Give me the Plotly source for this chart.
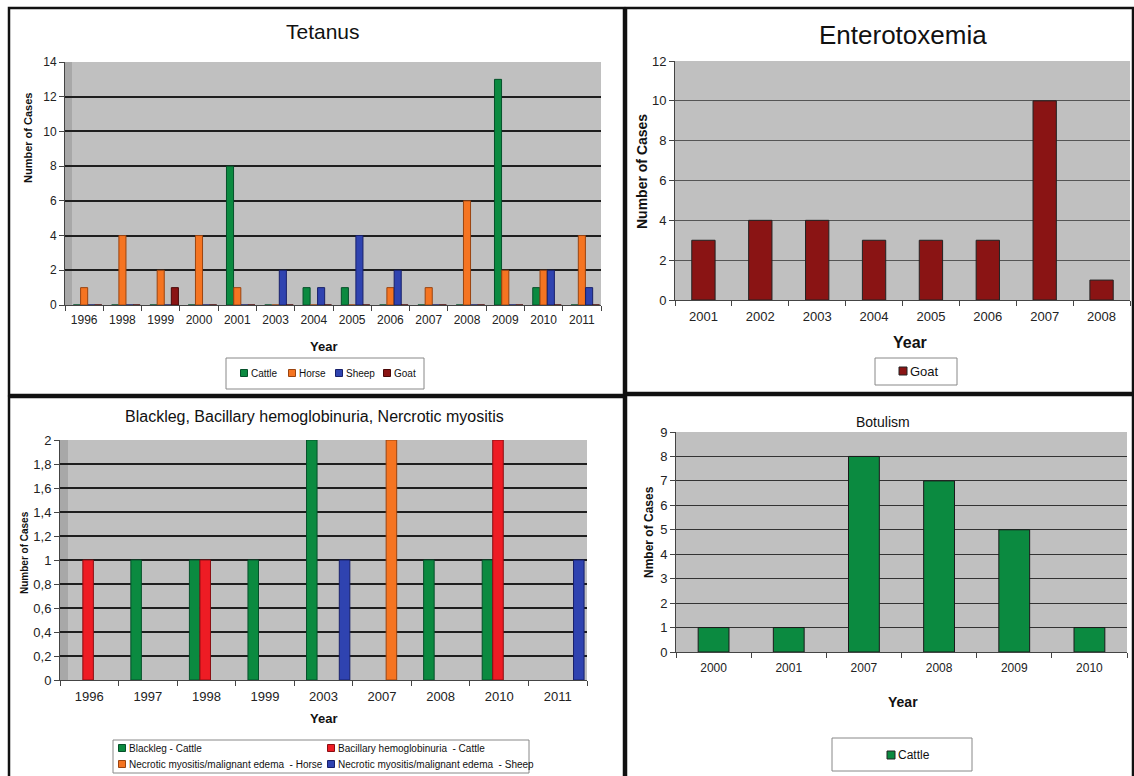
import plotly.graph_objects as go

W, H = 1134, 776

# ---------------- data ----------------
tet_years = ["1996", "1998", "1999", "2000", "2001", "2003", "2004", "2005",
             "2006", "2007", "2008", "2009", "2010", "2011"]
tet_cattle = [0, 0, 0, 0, 8, 0, 1, 1, 0, 0, 0, 13, 1, 0]
tet_horse = [1, 4, 2, 4, 1, 0, 0, 0, 1, 1, 6, 2, 2, 4]
tet_sheep = [0, 0, 0, 0, 0, 2, 1, 4, 2, 0, 0, 0, 2, 1]
tet_goat = [0, 0, 1, 0, 0, 0, 0, 0, 0, 0, 0, 0, 0, 0]

ent_years = ["2001", "2002", "2003", "2004", "2005", "2006", "2007", "2008"]
ent_goat = [3, 4, 4, 3, 3, 3, 10, 1]

bl_years = ["1996", "1997", "1998", "1999", "2003", "2007", "2008", "2010", "2011"]
bl_blackleg_cattle = [None, 1, 1, 1, 2, None, 1, 1, None]
bl_bacillary_cattle = [1, None, 1, None, None, None, None, 2, None]
bl_necrotic_horse = [None, None, None, None, None, 2, None, None, None]
bl_necrotic_sheep = [None, None, None, None, 1, None, None, None, 1]

bot_years = ["2000", "2001", "2007", "2008", "2009", "2010"]
bot_cattle = [1, 1, 8, 7, 5, 1]

# ---------------- styles ----------------
GREEN, GREEN_D = "#0b8a40", "#05502a"
ORANGE, ORANGE_D = "#f57421", "#9a4410"
BLUE, BLUE_D = "#2f43b0", "#18206a"
GOAT, GOAT_D = "#8a1414", "#4a0808"
RED, RED_D = "#ee1c24", "#8a0e12"
NARROW = "Liberation Sans Narrow, Arial Narrow, Liberation Sans, Arial"
ARIAL = "Liberation Sans, Arial"


def px(x):
    return x / W


def py(y):
    return 1 - y / H


fig = go.Figure()


def add_bar(x, y, name, color, line, xa, ya, width, offset=None, lw=1):
    kw = dict(x=x, y=y, name=name, xaxis=xa, yaxis=ya, showlegend=False,
              width=width, marker=dict(color=color, line=dict(color=line, width=lw)),
              hoverinfo="x+y+name")
    if offset is not None:
        kw["offset"] = offset
    fig.add_trace(go.Bar(**kw))


# Tetanus
tet_series = [(tet_cattle, "Cattle", GREEN, GREEN_D, -0.19),
              (tet_horse, "Horse", ORANGE, ORANGE_D, 0.0),
              (tet_sheep, "Sheep", BLUE, BLUE_D, 0.19),
              (tet_goat, "Goat", GOAT, GOAT_D, 0.37)]
tw = 0.185
for vals, nm, c, d, cen in tet_series:
    add_bar(tet_years, vals, nm, c, d, "x", "y", tw, cen - tw / 2)

# Enterotoxemia
add_bar(ent_years, ent_goat, "Goat", GOAT, "#222222", "x2", "y2", 0.41)

# Blackleg
bl_series = [(bl_blackleg_cattle, "Blackleg - Cattle", GREEN, GREEN_D, -0.2),
             (bl_bacillary_cattle, "Bacillary hemoglobinuria  - Cattle", RED, RED_D, -0.02),
             (bl_necrotic_horse, "Necrotic myositis/malignant edema  - Horse", ORANGE, ORANGE_D, 0.16),
             (bl_necrotic_sheep, "Necrotic myositis/malignant edema  - Sheep", BLUE, BLUE_D, 0.36)]
bw = 0.18
for vals, nm, c, d, cen in bl_series:
    add_bar(bl_years, vals, nm, c, d, "x3", "y3", bw, cen - bw / 2)

# Botulism
add_bar(bot_years, bot_cattle, "Cattle", GREEN, "#1a1a1a", "x4", "y4", 0.41)


def xaxis(x0, x1, anchor, font, size, standoff):
    return dict(domain=[px(x0), px(x1)], anchor=anchor, type="category",
                showline=True, linecolor="#444", linewidth=1, automargin=False,
                ticks="outside", ticklen=5, tickcolor="#444", tickson="boundaries",
                tickfont=dict(family=font, size=size, color="#222"),
                ticklabelstandoff=standoff, showgrid=False, zeroline=False,
                fixedrange=True)


def yaxis(y0, y1, anchor, rng, dtick, gc, gw, font, size):
    return dict(domain=[py(y1), py(y0)], anchor=anchor, range=rng, dtick=dtick,
                showline=True, linecolor="#444", linewidth=1, automargin=False,
                ticks="outside", ticklen=5, tickcolor="#444",
                tickfont=dict(family=font, size=size, color="#222"),
                showgrid=True, gridcolor=gc, gridwidth=gw, zeroline=False,
                fixedrange=True)


fig.update_layout(
    width=W, height=H, autosize=False,
    margin=dict(l=0, r=0, t=0, b=0, pad=0, autoexpand=False),
    paper_bgcolor="white", plot_bgcolor="#c0c0c0",
    barmode="overlay", separators=", ", showlegend=False,
    xaxis=xaxis(65, 601, "y", NARROW, 12, 4),
    yaxis=yaxis(62, 305, "x", [0, 14], 2, "#1e1e1e", 2, NARROW, 12),
    xaxis2=xaxis(675, 1130, "y2", ARIAL, 13, 4),
    yaxis2=yaxis(61, 300, "x2", [0, 12], 2, "#555555", 1, ARIAL, 13),
    xaxis3=xaxis(60, 587, "y3", NARROW, 13, 4),
    yaxis3=yaxis(440, 680, "x3", [0, 2], 0.2, "#1e1e1e", 2, NARROW, 13),
    xaxis4=xaxis(676, 1127, "y4", NARROW, 12, 5),
    yaxis4=yaxis(432, 652, "x4", [0, 9], 1, "#333333", 1, NARROW, 13),
)


def ann(x, y, text, size, family, bold=False, angle=0, xanchor="center", color="#111"):
    t = f"<b>{text}</b>" if bold else text
    fig.add_annotation(x=px(x), y=py(y), xref="paper", yref="paper", text=t,
                       showarrow=False, textangle=angle,
                       font=dict(family=family, size=size, color=color),
                       xanchor=xanchor, yanchor="middle")


def rect(x0, y0, x1, y1, line, lw, fill="rgba(0,0,0,0)", layer="above"):
    fig.add_shape(type="rect", xref="paper", yref="paper",
                  x0=px(x0), x1=px(x1), y0=py(y0), y1=py(y1),
                  line=dict(color=line, width=lw), fillcolor=fill, layer=layer)


# 3D side walls (tetanus, blackleg)
rect(65, 62, 72, 305, "#a8a8a8", 0, "#a8a8a8", "between")
rect(60, 440, 68, 680, "#a8a8a8", 0, "#a8a8a8", "between")

# titles
ann(323, 32, "Tetanus", 21, NARROW)
ann(903, 35, "Enterotoxemia", 26, ARIAL)
ann(314, 416, "Blackleg, Bacillary hemoglobinuria, Nercrotic myositis", 16, NARROW)
ann(883, 422, "Botulism", 14, NARROW)
# axis titles
ann(28, 138, "Number of Cases", 11, ARIAL, True, -90)
ann(323, 346, "Year", 13, NARROW, True)
ann(642, 172, "Number of Cases", 14, ARIAL, True, -90)
ann(910, 342, "Year", 16, ARIAL, True)
ann(24, 553, "Number of Cases", 10, ARIAL, True, -90)
ann(323, 718, "Year", 13, NARROW, True)
ann(649, 532, "Nmber of Cases", 12, ARIAL, True, -90)
ann(903, 702, "Year", 14, NARROW, True)


# legends (drawn as key squares + text)
def legend_item(x, y, name, color, edge, size, s=7):
    rect(x - s / 2, y - s / 2, x + s / 2, y + s / 2, edge, 1, color)
    ann(x + s / 2 + 1, y, name, size, NARROW, xanchor="left")


rect(226, 358, 424, 389, "#888", 1, "white")
for (vals, nm, c, d, cen), xx in zip(tet_series, [244, 292, 339, 387]):
    legend_item(xx, 373, nm, c, d, 10)

rect(875, 358, 957, 385, "#888", 1, "white")
legend_item(903, 371, "Goat", GOAT, "#222", 13, 8)

rect(113, 740, 529, 773, "#888", 1, "white")
for (vals, nm, c, d, cen), (xx, yy) in zip(bl_series, [(122, 748), (331, 748), (122, 764), (331, 764)]):
    legend_item(xx, yy, nm, c, d, 10)

rect(832, 738, 972, 771, "#888", 1, "white")
legend_item(891, 755, "Cattle", GREEN, "#222", 12, 8)

# panel frames
for x0, y0, x1, y1 in [(9, 8, 624, 395), (626, 8, 1133, 393),
                       (9, 397, 624, 778), (626, 395, 1133, 778)]:
    rect(x0, y0, x1, y1, "#111", 2.5)

fig.write_html(
    "out.html",
    config={"displayModeBar": False},
    post_script=("document.documentElement.style.margin='0';"
                 "document.body.style.margin='0';"
                 "document.body.style.overflow='hidden';"),
)
